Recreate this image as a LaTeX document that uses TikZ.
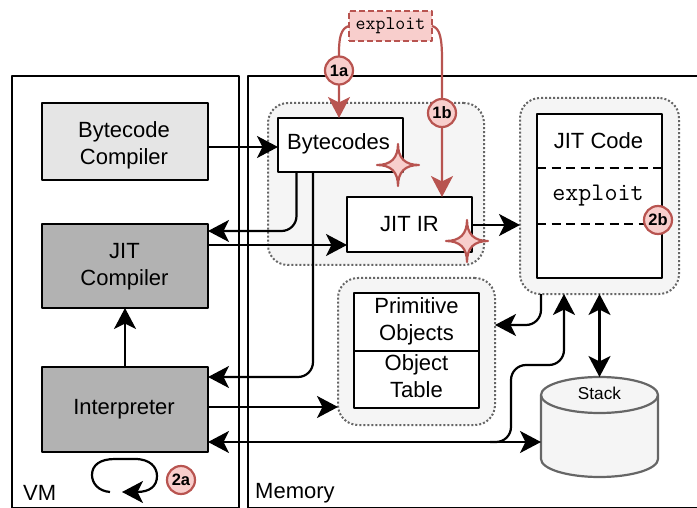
\documentclass[tikz,border=0pt]{standalone}
\usepackage{fontspec}
\setmainfont{Liberation Sans}
\usetikzlibrary{arrows.meta}
\definecolor{redfill}{HTML}{F8CECC}
\definecolor{redline}{HTML}{B85450}
\definecolor{groupfill}{HTML}{F5F5F5}
\definecolor{groupline}{HTML}{666666}
\tikzset{
	box/.style={draw, line width=2.2pt, inner sep=0pt, outer sep=0pt, align=center, font=\fontsize{22}{27}\selectfont},
	group/.style={draw=groupline, fill=groupfill, line width=2pt, dotted, rounded corners=20pt, inner sep=0pt, outer sep=0pt},
	badge/.style={circle, draw=redline, fill=redfill, line width=2.2pt, inner sep=0pt, outer sep=0pt, minimum size=28pt, font=\fontsize{16.5}{18}\bfseries\selectfont},
	code/.style={font=\fontsize{25.3}{27}\ttfamily\selectfont, inner sep=0pt},
	lab/.style={font=\fontsize{22}{27}\selectfont, inner sep=0pt, align=center},
	attack/.style={draw=redline, line width=2.2pt, ->},
	flow/.style={line width=2.2pt, ->, rounded corners=15pt},
	both/.style={line width=2.2pt, <->},
	divider/.style={line width=2.2pt, dash pattern=on 9pt off 5.5pt},
	spark/.style={draw=redline, fill=redfill, line width=2.2pt}
}
\begin{document}
\begin{tikzpicture}[x=1pt, y=-1pt, line join=round, >={Stealth[length=21pt,width=22pt,inset=5.5pt]}]
	\useasboundingbox (0,0) rectangle (697,508);
	\draw[line width=2.2pt] (12,508) |- (239,76) -- (239,508) -- cycle;
	\draw[line width=2.2pt] (248,508) |- (702,76) -- (702,508) -- cycle;

	\node[group, minimum width=216pt, minimum height=162pt] (irgroup) at (376,184) {};
	\node[group, minimum width=159pt, minimum height=196pt] (codegroup) at (599.5,196) {};
	\node[group, minimum width=157pt, minimum height=147pt] (objgroup) at (416.5,351.5) {};

	\node[box, fill=black!10, minimum width=166pt, minimum height=77pt] (bytecomp) at (125,141.5) {};
	\node[lab] (bytecomptext) at (124,145.5) {Bytecode\\Compiler};
	\node[box, fill=black!30, minimum width=166pt, minimum height=84pt] (jitcomp) at (125,266) {};
	\node[lab] (jitcomptext) at (124.5,267) {JIT\\Compiler};
	\node[box, fill=black!30, minimum width=166pt, minimum height=85pt] (interp) at (125,409.5) {};
	\node[lab] (interptext) at (124,409.5) {Interpreter};
	\node[box, fill=white, minimum width=125pt, minimum height=54pt] (bytecodes) at (340.5,145) {};
	\node[lab] (bytecodestext) at (338.5,144) {Bytecodes};
	\node[box, fill=white, minimum width=125pt, minimum height=55pt] (jitir) at (409.5,224.5) {JIT IR};
	\node[box, fill=white, minimum width=125pt, minimum height=164pt] (jitcode) at (599.5,196) {};
	\node[lab] (jitcodetext) at (598.5,141) {JIT Code};
	\node[code] (jitexploit) at (598,196) {exploit};
	\draw[divider] (jitcode.west |- 0,168) -- (jitcode.east |- 0,168);
	\draw[divider] (jitcode.west |- 0,224) -- (jitcode.east |- 0,224);
	\node[box, fill=white, minimum width=125pt, minimum height=58pt] (prim) at (416.5,322) {};
	\node[lab] (primtext) at (416.5,321.5) {Primitive\\Objects};
	\node[box, fill=white, minimum width=125pt, minimum height=57pt] (objtable) at (416.5,379.5) {};
	\node[lab] (objtabletext) at (416.5,376.5) {Object\\Table};

	\node[minimum width=117pt, minimum height=100pt, inner sep=0pt, outer sep=0pt] (stack) at (599.5,427) {};
	\draw[draw=groupline, fill=groupfill, line width=2.2pt] (stack.north west) ++(0,18) -- ++(0,64) arc[start angle=180, end angle=360, x radius=58.5pt, y radius=18pt] -- ++(0,-64) arc[start angle=0, end angle=180, x radius=58.5pt, y radius=18pt] -- cycle;
	\draw[draw=groupline, line width=2.2pt] (stack.north west) ++(0,18) arc[start angle=180, end angle=360, x radius=58.5pt, y radius=18pt];
	\node[font=\fontsize{17.2}{20}\selectfont, inner sep=0pt] (stacktext) at (599.5,393) {Stack};

	\node[draw=redline, fill=redfill, line width=2.2pt, dash pattern=on 6pt off 3pt, minimum width=83pt, minimum height=30pt, inner sep=0pt, outer sep=0pt, font=\fontsize{19.3}{20}\ttfamily\selectfont] (exploit) at (390.5,26) {\raisebox{-2pt}{exploit}};

	\node[lab, anchor=west] (vmtext) at (23,493) {VM};
	\node[lab, anchor=west] (memtext) at (255,493) {Memory};

	\draw[flow] (bytecomp.east |- 0,147) -- (bytecodes.west |- 0,147);
	\draw[flow] ([xshift=-44pt]bytecodes.south) |- (jitcomp.east |- 0,231);
	\draw[flow] (jitcomp.east |- 0,245) -- (jitir.west |- 0,245);
	\draw[flow] ([xshift=-27.5pt]bytecodes.south) |- (interp.east |- 0,377);
	\draw[flow] (interp.north) -- (jitcomp.south);
	\draw[flow] (jitir.east |- 0,225) -- (codegroup.west |- 0,225);
	\draw[flow] ([xshift=-58.5pt]codegroup.south) |- (objgroup.east |- 0,325);
	\draw[flow] (interp.east |- 0,407) -- (objgroup.west |- 0,407);
	\draw[both] (interp.east |- 0,442) -- (stack.west |- 0,442);
	\coordinate (branch) at (490,442);
	\draw[flow] (branch) -| (511,365) -| ([xshift=-35.5pt]codegroup.south);
	\draw[both] (stack.north |- codegroup.south) -- (stack.north);
	\coordinate (loopend) at (122,492);
	\coordinate (loopstart) at (110,492);
	\draw[line width=2.2pt, ->] (loopstart) .. controls (98,491) and (92,483) .. (92,475) .. controls (92,465) and (100,459) .. (115,459) -- (135,459) .. controls (150,459) and (157,467) .. (157,476) .. controls (157,486) and (150,492) .. (loopend);

	\draw[attack] (exploit.west) .. controls (341,28) and (339,38) .. (339,52) -- ([xshift=-1.5pt]bytecodes.north);
	\draw[attack] (exploit.east) .. controls (440,28) and (442,38) .. (442,60) -- ([xshift=32.5pt]jitir.north);

	\coordinate (sparka) at (398,165);
	\coordinate (sparkb) at (467,241);
	\foreach \c in {sparka,sparkb} {
		\begin{scope}[shift={(\c)}]
			\draw[spark] (-21,0) .. controls (-7,0) and (0,-7) .. (0,-21) .. controls (0,-7) and (7,0) .. (21,0) .. controls (7,0) and (0,7) .. (0,21) .. controls (0,7) and (-7,0) .. (-21,0) -- cycle;
		\end{scope}
	}

	\node[badge] (onea) at (339,70.5) {1a};
	\node[badge] (oneb) at (442,113) {1b};
	\node[badge] (twob) at (658,220) {2b};
	\node[badge] (twoa) at (181,480) {2a};
\end{tikzpicture}
\end{document}
